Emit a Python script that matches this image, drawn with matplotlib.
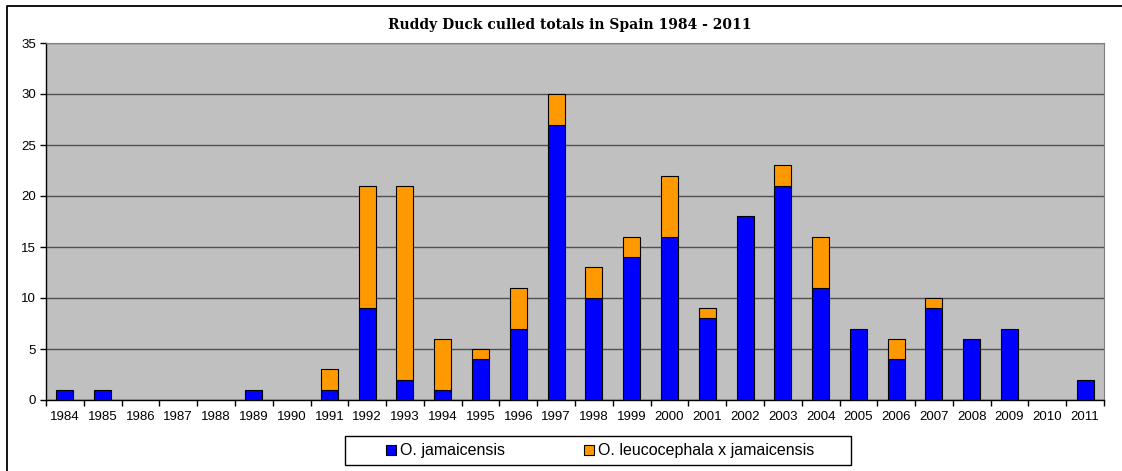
import numpy as np
import matplotlib.pyplot as plt
from matplotlib.lines import Line2D
from matplotlib.patches import Rectangle

years = [str(y) for y in range(1984, 2012)]
jamaicensis = [1, 1, 0, 0, 0, 1, 0, 1, 9, 2, 1, 4, 7, 27, 10, 14, 16, 8, 18, 21, 11, 7, 4, 9, 6, 7, 0, 2]
hybrid = [0, 0, 0, 0, 0, 0, 0, 2, 12, 19, 5, 1, 4, 3, 3, 2, 6, 1, 0, 2, 5, 0, 2, 1, 0, 0, 0, 0]

plt.rcParams.update({
    "font.family": ["Liberation Sans", "DejaVu Sans"],
    "font.size": 9.5,
})

W, H = 1122, 471
fig = plt.figure(figsize=(W / 100, H / 100), dpi=100)
ax = fig.add_axes([46 / W, 1 - 400 / H, (1104 - 46) / W, (400 - 43) / H])
ax.set_facecolor("#c0c0c0")

x = np.arange(len(years))
jam = np.array(jamaicensis)
hyb = np.array(hybrid)
w = 0.45
ax.bar(x[jam > 0], jam[jam > 0], width=w, color="#0000ff", edgecolor="black", linewidth=0.8,
       label="O. jamaicensis", zorder=3)
ax.bar(x[hyb > 0], hyb[hyb > 0], width=w, bottom=jam[hyb > 0], color="#ff9900", edgecolor="black",
       linewidth=0.8, label="O. leucocephala x jamaicensis", zorder=3)

ax.set_xlim(-0.5, len(years) - 0.5)
ax.set_ylim(0, 35)
ax.set_yticks(range(0, 36, 5))
ax.yaxis.grid(True, color="#505050", linewidth=1.0, zorder=1)
ax.set_axisbelow(True)

# category labels centred, tick marks on the boundaries
ax.set_xticks(x)
ax.set_xticklabels(years)
ax.tick_params(axis="x", length=0, pad=8)
ax.set_xticks(np.arange(-0.5, len(years), 1), minor=True)
ax.tick_params(axis="x", which="minor", length=4, width=1, direction="out")
ax.tick_params(axis="y", length=4, width=1, direction="out", pad=3)

for s in ["top", "right"]:
    ax.spines[s].set_color("#808080")
for s in ["left", "bottom"]:
    ax.spines[s].set_color("black")
    ax.spines[s].set_linewidth(1.0)

fig.text(570 / W, 1 - 25 / H, "Ruddy Duck culled totals in Spain 1984 - 2011", ha="center", va="center",
         family="DejaVu Serif", fontweight="bold", fontsize=10)

leg = ax.legend(loc="center", bbox_to_anchor=(600 / W, 1 - 451 / H), bbox_transform=fig.transFigure,
                ncol=2, frameon=False, fontsize=11.5,
                handlelength=0.65, handleheight=0.65, handletextpad=0.25, columnspacing=4.9,
                borderpad=0, borderaxespad=0)

# legend box
fig.patches.append(Rectangle((345 / W, 1 - 465 / H), 506 / W, 29 / H, transform=fig.transFigure,
                             fill=False, edgecolor="black", linewidth=1.0))

# outer chart border (only top and left visible)
fig.lines.append(Line2D([7 / W, 7 / W, 1.0], [0.0, 1 - 6 / H, 1 - 6 / H], transform=fig.transFigure,
                        color="black", linewidth=1.3))

fig.savefig("out.png", dpi=100)
